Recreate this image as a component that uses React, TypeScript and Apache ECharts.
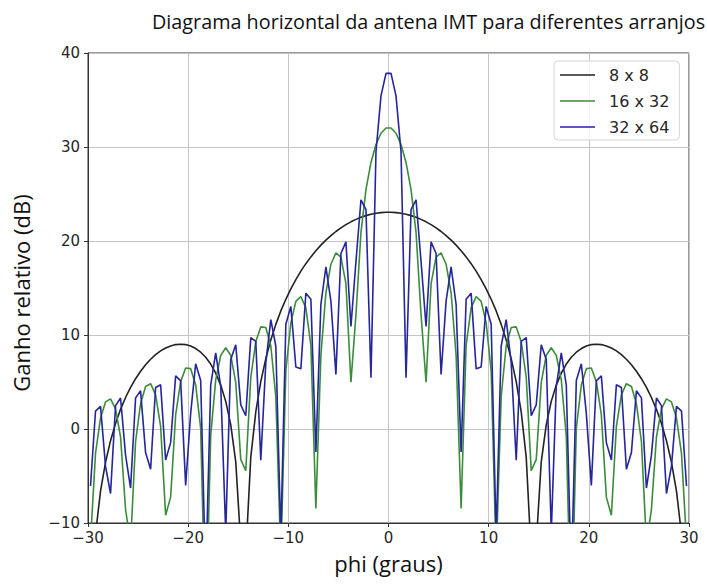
import React, { useEffect, useRef } from "react";
import * as echarts from "echarts";

// Horizontal angle samples (degrees)
const PHI: number[] = [
  -29.75, -29.25, -28.75, -28.25, -27.75, -27.25, -26.75, -26.25, -25.75, -25.25,
  -24.75, -24.25, -23.75, -23.25, -22.75, -22.25, -21.75, -21.25, -20.75, -20.25,
  -19.75, -19.25, -18.75, -18.25, -17.75, -17.25, -16.75, -16.25, -15.75, -15.25,
  -14.75, -14.25, -13.75, -13.25, -12.75, -12.25, -11.75, -11.25, -10.75, -10.25,
  -9.75, -9.25, -8.75, -8.25, -7.75, -7.25, -6.75, -6.25, -5.75, -5.25,
  -4.75, -4.25, -3.75, -3.25, -2.75, -2.25, -1.75, -1.25, -0.75, -0.25,
  0.25, 0.75, 1.25, 1.75, 2.25, 2.75, 3.25, 3.75, 4.25, 4.75,
  5.25, 5.75, 6.25, 6.75, 7.25, 7.75, 8.25, 8.75, 9.25, 9.75,
  10.25, 10.75, 11.25, 11.75, 12.25, 12.75, 13.25, 13.75, 14.25, 14.75,
  15.25, 15.75, 16.25, 16.75, 17.25, 17.75, 18.25, 18.75, 19.25, 19.75,
  20.25, 20.75, 21.25, 21.75, 22.25, 22.75, 23.25, 23.75, 24.25, 24.75,
  25.25, 25.75, 26.25, 26.75, 27.25, 27.75, 28.25, 28.75, 29.25, 29.75,
];

// 8 x 8 array gain (dB)
const GAIN_8x8: number[] = [
  -20.9, -11.19, -6.6, -3.54, -1.24, 0.58, 2.09, 3.35, 4.43, 5.35,
  6.15, 6.84, 7.42, 7.91, 8.31, 8.62, 8.84, 8.98, 9.02, 8.98,
  8.83, 8.56, 8.17, 7.63, 6.91, 5.95, 4.67, 2.94, 0.47, -3.49,
  -12.19, -13.43, -3.02, 1.81, 5.04, 7.49, 9.47, 11.13, 12.56, 13.8,
  14.9, 15.9, 16.79, 17.59, 18.31, 18.96, 19.56, 20.09, 20.57, 21.01,
  21.39, 21.74, 22.04, 22.3, 22.52, 22.7, 22.84, 22.95, 23.02, 23.06,
  23.06, 23.02, 22.95, 22.84, 22.7, 22.52, 22.3, 22.04, 21.74, 21.39,
  21.01, 20.57, 20.09, 19.56, 18.96, 18.31, 17.59, 16.79, 15.9, 14.9,
  13.8, 12.56, 11.13, 9.47, 7.49, 5.04, 1.81, -3.02, -13.43, -12.19,
  -3.49, 0.47, 2.94, 4.67, 5.95, 6.91, 7.63, 8.17, 8.56, 8.83,
  8.98, 9.02, 8.98, 8.84, 8.62, 8.31, 7.91, 7.42, 6.84, 6.15,
  5.35, 4.43, 3.35, 2.09, 0.58, -1.24, -3.54, -6.6, -11.19, -20.9,
];

// 16 x 32 array gain (dB)
const GAIN_16x32: number[] = [
  -11.93, -2.6, 1.16, 2.88, 3.2, 2.14, -0.85, -8.54, -12.2, -1.33,
  2.71, 4.52, 4.82, 3.63, 0.28, -9.17, -7.25, 1.49, 5.03, 6.49,
  6.42, 4.67, 0.06, -21.98, -0.71, 5.23, 7.83, 8.64, 7.85, 4.95,
  -3.23, -4.44, 5.48, 9.29, 10.86, 10.79, 8.86, 3.46, -13.74, 6.17,
  11.29, 13.57, 14.1, 12.89, 8.9, -8.45, 7.86, 14.47, 17.53, 18.74,
  18.28, 15.46, 4.98, 12.16, 20.91, 25.46, 28.36, 30.27, 31.46, 32.02,
  32.02, 31.46, 30.27, 28.36, 25.46, 20.91, 12.16, 4.98, 15.46, 18.28,
  18.74, 17.53, 14.47, 7.86, -8.45, 8.9, 12.89, 14.1, 13.57, 11.29,
  6.17, -13.74, 3.46, 8.86, 10.79, 10.86, 9.29, 5.48, -4.44, -3.23,
  4.95, 7.85, 8.64, 7.83, 5.23, -0.71, -21.98, 0.06, 4.67, 6.42,
  6.49, 5.03, 1.49, -7.25, -9.17, 0.28, 3.63, 4.82, 4.52, 2.71,
  -1.33, -12.2, -8.54, -0.85, 2.14, 3.2, 2.88, 1.16, -2.6, -11.93,
];

// 32 x 64 array gain (dB)
const GAIN_32x64: number[] = [
  -6.07, 1.91, 2.41, -3.95, -6.86, 2.48, 3.3, -2.78, -6.28, 3.31,
  4.06, -2.51, -4.29, 4.41, 4.7, -3.29, -1.45, 5.65, 5.12, -6.0,
  1.66, 6.94, 5.17, -15.96, 4.66, 8.09, 4.54, -11.0, 7.39, 8.96,
  2.56, 1.41, 9.72, 9.32, -3.32, 7.03, 11.64, 8.83, -11.5, 11.15,
  13.04, 6.59, 6.4, 14.45, 13.81, -2.45, 13.26, 17.25, 13.6, 5.8,
  18.67, 19.91, 10.91, 17.81, 24.38, 23.34, 5.45, 29.49, 35.44, 37.83,
  37.83, 35.44, 29.49, 5.45, 23.34, 24.38, 17.81, 10.91, 19.91, 18.67,
  5.8, 13.6, 17.25, 13.26, -2.45, 13.81, 14.45, 6.4, 6.59, 13.04,
  11.15, -11.5, 8.83, 11.64, 7.03, -3.32, 9.32, 9.72, 1.41, 2.56,
  8.96, 7.39, -11.0, 4.54, 8.09, 4.66, -15.96, 5.17, 6.94, 1.66,
  -6.0, 5.12, 5.65, -1.45, -3.29, 4.7, 4.41, -4.29, -2.51, 4.06,
  3.31, -6.28, -2.78, 3.3, 2.48, -6.86, -3.95, 2.41, 1.91, -6.07,
];

const SERIES_NAMES = ["8 x 8", "16 x 32", "32 x 64"];
const SERIES_COLORS = ["#222222", "#3a8c3a", "#25259c"];
const X_TICKS = { min: -30, max: 30, interval: 10 };
const Y_TICKS = { min: -10, max: 40, interval: 10 };

const TITLE = "Diagrama horizontal da antena IMT para diferentes arranjos";
const X_NAME = "phi (graus)";
const Y_NAME = "Ganho relativo (dB)";

const pairs = (ys: number[]) => PHI.map((x, i) => [x, ys[i]]);
const fmt = (v: number) => (v < 0 ? "\u2212" + Math.abs(v) : String(v));

export default function App() {
  const ref = useRef<HTMLDivElement>(null);

  useEffect(() => {
    if (!ref.current) return;
    const chart = echarts.init(ref.current, undefined, { renderer: "svg" });
    const tickFont = {
      fontFamily: "DejaVu Sans",
      fontSize: 15,
      color: "#262626",
    };
    const allData = [GAIN_8x8, GAIN_16x32, GAIN_32x64];
    chart.setOption({
      animation: false,
      backgroundColor: "#ffffff",
      title: {
        text: TITLE,
        left: 147,
        top: 6,
        textStyle: {
          fontFamily: "Open Sans",
          fontSize: 19.8,
          fontWeight: "normal",
          color: "#111111",
        },
      },
      grid: {
        left: 88,
        top: 53,
        width: 601,
        height: 470,
        outerBoundsMode: "none",
        containLabel: false,
        show: true,
        borderColor: "#333333",
        borderWidth: 1,
        backgroundColor: "transparent",
      },
      legend: {
        orient: "vertical",
        left: 554,
        top: 61,
        data: SERIES_NAMES,
        icon: "path://M0,0H35V1.6H0Z",
        itemWidth: 35,
        itemHeight: 14,
        itemGap: 10,
        padding: [6, 10, 5, 6],
        backgroundColor: "rgba(255,255,255,0.8)",
        borderColor: "#d4d4d4",
        borderWidth: 1,
        borderRadius: 4,
        textStyle: {
          fontFamily: "DejaVu Sans",
          fontSize: 16,
          lineHeight: 16,
          color: "#262626",
          padding: [0, 0, 0, 9],
        },
      },
      xAxis: {
        type: "value",
        min: X_TICKS.min,
        max: X_TICKS.max,
        interval: X_TICKS.interval,
        name: X_NAME,
        nameLocation: "middle",
        nameGap: 29,
        nameTextStyle: {
          fontFamily: "Open Sans",
          fontSize: 22,
          color: "#111111",
        },
        axisLine: {
          show: true,
          onZero: false,
          lineStyle: { color: "#333333", width: 1 },
        },
        axisTick: { show: true, length: 4, lineStyle: { color: "#333333" } },
        axisLabel: { ...tickFont, margin: 7, formatter: fmt },
        splitLine: { show: true, lineStyle: { color: "#c4c4c4", width: 1 } },
      },
      yAxis: {
        type: "value",
        min: Y_TICKS.min,
        max: Y_TICKS.max,
        interval: Y_TICKS.interval,
        name: Y_NAME,
        nameLocation: "middle",
        nameRotate: 90,
        nameGap: 56,
        nameTextStyle: {
          fontFamily: "Open Sans",
          fontSize: 22,
          color: "#111111",
          padding: [0, 10, 0, 0],
        },
        axisLine: {
          show: true,
          onZero: false,
          lineStyle: { color: "#333333", width: 1 },
        },
        axisTick: { show: true, length: 4, lineStyle: { color: "#333333" } },
        axisLabel: { ...tickFont, margin: 8, formatter: fmt },
        splitLine: { show: true, lineStyle: { color: "#c4c4c4", width: 1 } },
      },
      series: SERIES_NAMES.map((name, i) => ({
        name,
        type: "line",
        data: pairs(allData[i]),
        showSymbol: false,
        symbol: "none",
        clip: true,
        color: SERIES_COLORS[i],
        lineStyle: { color: SERIES_COLORS[i], width: 1.6 },
        z: 2 + i,
      })),
    });
    return () => chart.dispose();
  }, []);

  return (
    <div
      ref={ref}
      style={{ position: "fixed", left: 0, top: 0, width: 707, height: 585 }}
    />
  );
}
